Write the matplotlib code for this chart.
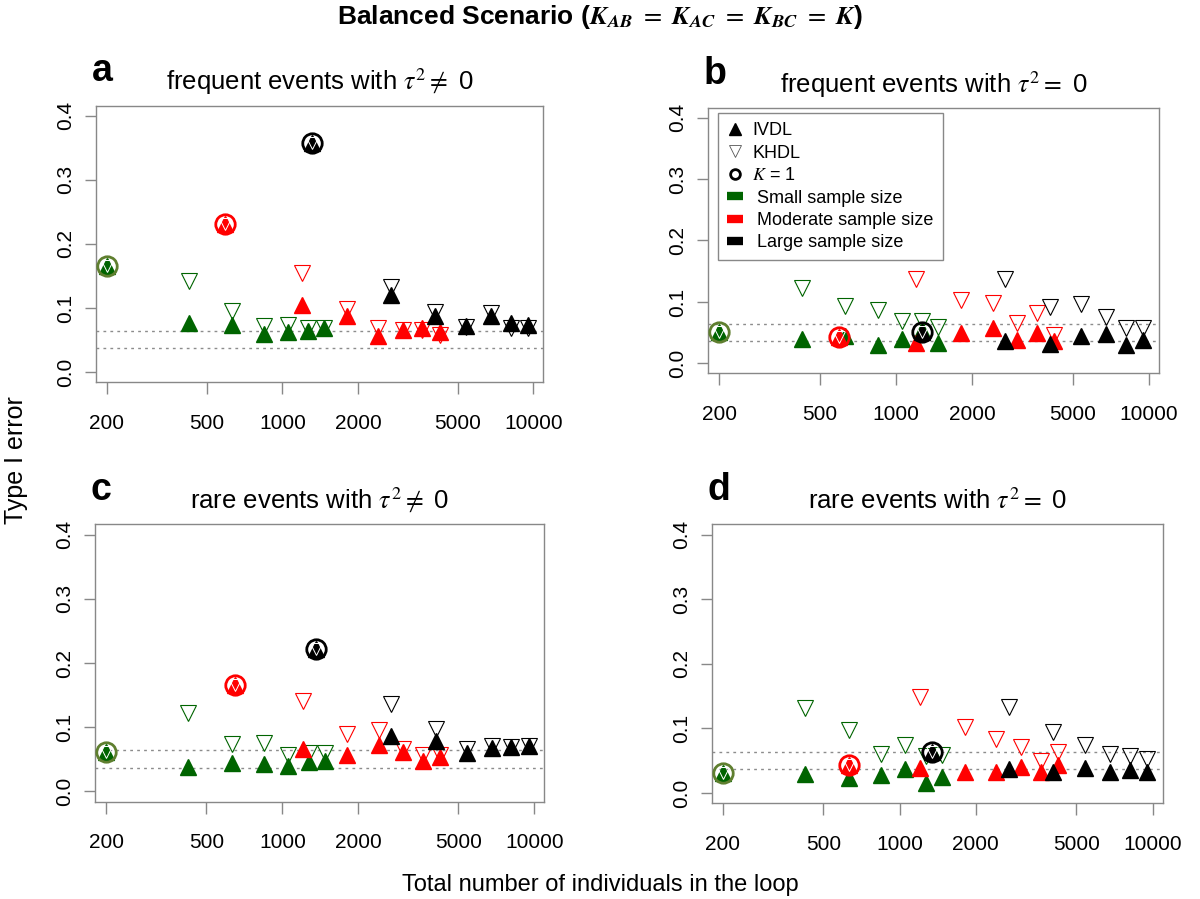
import matplotlib.pyplot as plt
from matplotlib.lines import Line2D
from matplotlib.font_manager import FontProperties

plt.rcParams['font.family'] = ['Liberation Sans', 'DejaVu Sans']

# total number of individuals for K = 2..7
n_small = [423, 631, 847, 1052, 1271, 1472]
n_moderate = [1203, 1806, 2415, 3013, 3608, 4230]
n_large = [2700, 4055, 5403, 6780, 8110, 9530]

# K = 1 points: small, moderate, large
k1_n_a = [200, 590, 1318]
k1_n_b = [200, 596, 1265]
k1_n_c = [200, 649, 1364]
k1_n_d = [200, 631, 1346]
k1_err_a = [0.165, 0.231, 0.358]
k1_err_b = [0.0515, 0.043, 0.0515]
k1_err_c = [0.061, 0.166, 0.2215]
k1_err_d = [0.031, 0.043, 0.063]

# panel a: frequent events, tau^2 != 0
ivdl_small_a = [0.076, 0.073, 0.060, 0.062, 0.064, 0.069]
khdl_small_a = [0.142, 0.096, 0.072, 0.073, 0.068, 0.069]
ivdl_mod_a = [0.105, 0.088, 0.056, 0.065, 0.068, 0.063]
khdl_mod_a = [0.154, 0.098, 0.068, 0.066, 0.065, 0.058]
ivdl_large_a = [0.120, 0.088, 0.072, 0.088, 0.076, 0.074]
khdl_large_a = [0.132, 0.093, 0.071, 0.092, 0.069, 0.069]

# panel b: frequent events, tau^2 = 0
ivdl_small_b = [0.039, 0.044, 0.030, 0.040, 0.055, 0.034]
khdl_small_b = [0.122, 0.093, 0.087, 0.069, 0.069, 0.060]
ivdl_mod_b = [0.033, 0.049, 0.058, 0.038, 0.050, 0.036]
khdl_mod_b = [0.138, 0.103, 0.098, 0.065, 0.082, 0.046]
ivdl_large_b = [0.037, 0.031, 0.044, 0.048, 0.030, 0.038]
khdl_large_b = [0.138, 0.091, 0.096, 0.076, 0.057, 0.057]

# panel c: rare events, tau^2 != 0
ivdl_small_c = [0.038, 0.044, 0.043, 0.039, 0.046, 0.048]
khdl_small_c = [0.122, 0.074, 0.075, 0.057, 0.060, 0.060]
ivdl_mod_c = [0.066, 0.057, 0.073, 0.061, 0.048, 0.053]
khdl_mod_c = [0.141, 0.090, 0.095, 0.066, 0.057, 0.057]
ivdl_large_c = [0.086, 0.078, 0.060, 0.067, 0.069, 0.070]
khdl_large_c = [0.136, 0.097, 0.066, 0.070, 0.069, 0.070]

# panel d: rare events, tau^2 = 0
ivdl_small_d = [0.030, 0.023, 0.028, 0.037, 0.016, 0.025]
khdl_small_d = [0.131, 0.097, 0.061, 0.075, 0.058, 0.059]
ivdl_mod_d = [0.039, 0.032, 0.032, 0.040, 0.032, 0.044]
khdl_mod_d = [0.148, 0.102, 0.084, 0.072, 0.050, 0.063]
ivdl_large_d = [0.037, 0.032, 0.039, 0.032, 0.035, 0.032]
khdl_large_d = [0.133, 0.094, 0.074, 0.061, 0.057, 0.053]

band = [0.037, 0.064]
x_ticks = [200, 500, 1000, 2000, 5000, 10000]
y_ticks = [0.0, 0.1, 0.2, 0.3, 0.4]

colors = ['#006400', '#ff0000', '#000000']
circle_colors = ['#5f7f2f', '#ff0000', '#000000']
size_n = [n_small, n_moderate, n_large]

panels = [
    ('a', r'frequent events with $\tau^2 \neq$ 0', [0.080, 0.5748, 0.3728, 0.3077],
     [ivdl_small_a, ivdl_mod_a, ivdl_large_a], [khdl_small_a, khdl_mod_a, khdl_large_a], k1_n_a, k1_err_a),
    ('b', r'frequent events with $\tau^2 =$ 0', [0.5903, 0.5848, 0.3753, 0.2954],
     [ivdl_small_b, ivdl_mod_b, ivdl_large_b], [khdl_small_b, khdl_mod_b, khdl_large_b], k1_n_b, k1_err_b),
    ('c', r'rare events with $\tau^2 \neq$ 0', [0.0794, 0.1082, 0.3742, 0.3086],
     [ivdl_small_c, ivdl_mod_c, ivdl_large_c], [khdl_small_c, khdl_mod_c, khdl_large_c], k1_n_c, k1_err_c),
    ('d', r'rare events with $\tau^2 =$ 0', [0.5931, 0.1064, 0.3758, 0.3103],
     [ivdl_small_d, ivdl_mod_d, ivdl_large_d], [khdl_small_d, khdl_mod_d, khdl_large_d], k1_n_d, k1_err_d),
]

fig = plt.figure(figsize=(12, 8.99), dpi=100)

for letter, title, rect, ivdl, khdl, k1n, k1e in panels:
    ax = fig.add_axes(rect)
    ax.set_xscale('log')
    ax.set_xlim(181, 10960)
    ax.set_ylim(-0.016, 0.416)

    for y in band:
        ax.axhline(y, color='#8c8c8c', lw=1, ls=(0, (2, 3)), zorder=1)

    for i in range(3):
        ax.plot(size_n[i], khdl[i], ls='none', marker='v', ms=11, mfc='none',
                mec=colors[i], mew=0.8, zorder=2)
        ax.plot(size_n[i], ivdl[i], ls='none', marker='^', ms=11, color=colors[i], zorder=3)
        # K = 1: both methods coincide
        ax.plot(k1n[i], k1e[i], ls='none', marker='^', ms=11, color=colors[i], zorder=4)
        ax.plot(k1n[i], k1e[i], ls='none', marker='v', ms=9, mfc='none',
                mec='white', mew=0.7, zorder=5)
        ax.plot(k1n[i], k1e[i], ls='none', marker='o', ms=14, mfc='none',
                mec=circle_colors[i], mew=2, zorder=6)

    ax.set_xticks(x_ticks)
    ax.set_xticklabels([str(v) for v in x_ticks])
    ax.minorticks_off()
    ax.set_yticks(y_ticks)
    ax.set_yticklabels(['0.0', '0.1', '0.2', '0.3', '0.4'])
    ax.tick_params(axis='x', length=8.5, width=1, color='#888888', pad=14, labelsize=15)
    ax.tick_params(axis='y', length=8, width=1, color='#888888', pad=7, labelsize=15,
                   labelrotation=90)
    for lab in ax.get_yticklabels():
        lab.set_va('center')
    for sp in ax.spines.values():
        sp.set_color('#888888')
        sp.set_linewidth(1)

    ax.set_title(title, fontsize=18.5, pad=11, math_fontfamily='stix')
    ax.text(-0.01, 1.06, letter, transform=ax.transAxes, fontsize=27,
            fontweight='bold', ha='left', va='bottom')

    if letter == 'b':
        handles = [
            Line2D([], [], ls='none', marker='^', color='k', ms=8),
            Line2D([], [], ls='none', marker='v', mfc='none', mec='#555555', mew=0.6, ms=8),
            Line2D([], [], ls='none', marker='o', mfc='none', mec='k', mew=2, ms=7),
            Line2D([], [], ls='none', marker='_', color=colors[0], mew=6, ms=11),
            Line2D([], [], ls='none', marker='_', color=colors[1], mew=6, ms=11),
            Line2D([], [], ls='none', marker='_', color=colors[2], mew=6, ms=11),
        ]
        labels = ['IVDL', 'KHDL', r'$K$ = 1', ' Small sample size',
                  ' Moderate sample size', ' Large sample size']
        leg = ax.legend(handles, labels, loc='upper left', bbox_to_anchor=(0.021, 0.979),
                        borderaxespad=0, fancybox=False, edgecolor='#888888',
                        prop=FontProperties(family='Liberation Sans', size=13, math_fontfamily='stix'),
                        handlelength=0.9, handletextpad=0.5, labelspacing=0.3,
                        borderpad=0.5, framealpha=1)
        leg.get_frame().set_linewidth(1)

fig.text(0.5, 0.981, r'Balanced Scenario ($\mathbfit{K}_{\mathbfit{AB}}\ =\ \mathbfit{K}_{\mathbfit{AC}}\ =\ '
         r'\mathbfit{K}_{\mathbfit{BC}}\ =\ \mathbfit{K}$)',
         ha='center', va='center', fontsize=19, fontweight='bold', math_fontfamily='stix')
fig.text(0.5, 0.016, 'Total number of individuals in the loop', ha='center', va='center', fontsize=17)
fig.text(0.013, 0.488, 'Type I error', ha='center', va='center', rotation=90, fontsize=18)

fig.savefig('out.png', dpi=100)
